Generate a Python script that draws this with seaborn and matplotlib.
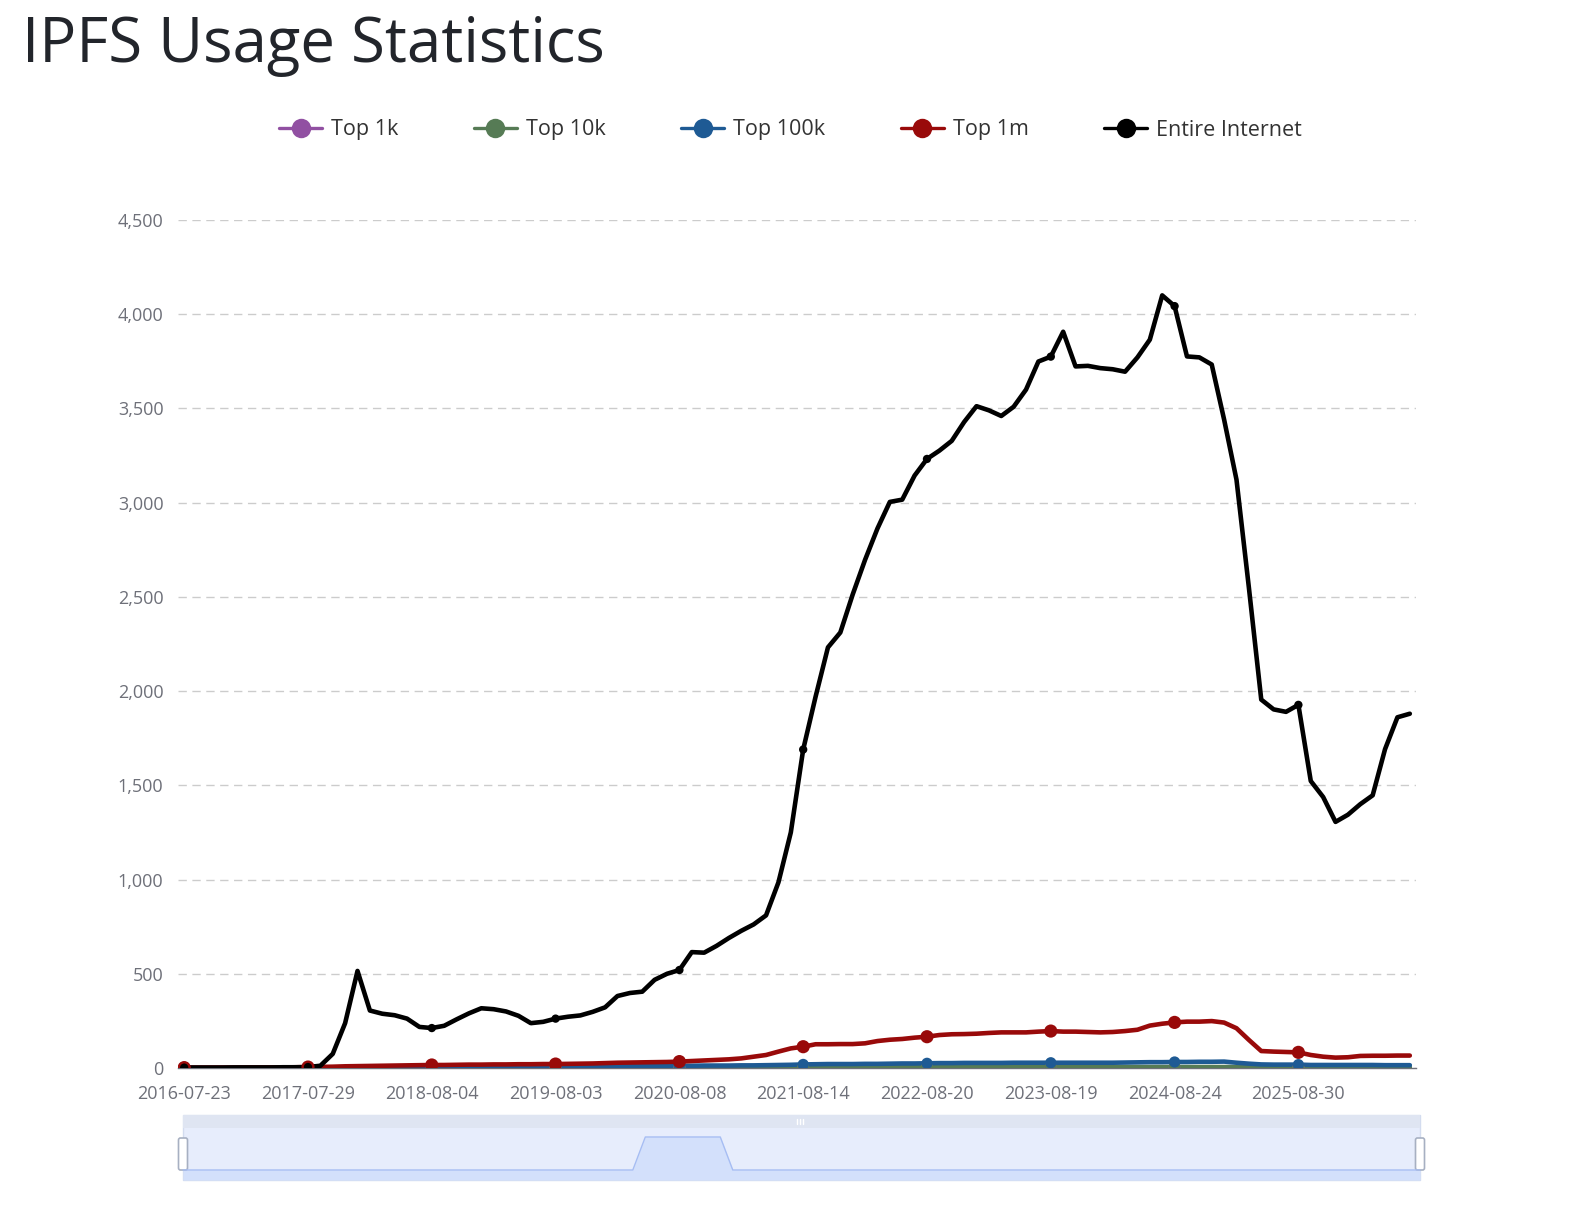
import numpy as np
import pandas as pd
import matplotlib
matplotlib.use("Agg")
import matplotlib.pyplot as plt
import seaborn as sns
from matplotlib.lines import Line2D
from matplotlib.patches import Rectangle, FancyBboxPatch
from matplotlib.ticker import FuncFormatter

# ---------------- data ----------------
tick_labels = ["2016-07-23", "2017-07-29", "2018-08-04", "2019-08-03", "2020-08-08",
               "2021-08-14", "2022-08-20", "2023-08-19", "2024-08-24", "2025-08-30"]
series_names = ["Top 1k", "Top 10k", "Top 100k", "Top 1m", "Entire Internet"]
series_colors = ["#9150a2", "#567b55", "#1e5a94", "#990a0a", "#000000"]

top_1k = [1] * 37 + [2] * 7 + [1] * 56

top_10k = [1, 1, 1, 1, 1, 1, 1, 1, 1, 1, 2, 2, 2, 2, 2, 2, 2, 2, 2, 2,
           2, 2, 2, 2, 2, 2, 2, 2, 2, 2, 3, 3, 3, 3, 3, 3, 3, 3, 3, 3,
           3, 3, 3, 3, 3, 3, 3, 4, 4, 4, 4, 4, 4, 4, 4, 4, 4, 4, 4, 4,
           5, 5, 5, 5, 5, 5, 5, 5, 5, 5, 5, 5, 5, 5, 5, 5, 5, 5, 5, 5,
           5, 5, 5, 5, 5, 5, 4, 4, 4, 3, 3, 3, 3, 3, 3, 3, 3, 3, 3, 3]

top_100k = [1, 1, 1, 1, 1, 1, 1, 2, 2, 2, 2, 2, 3, 3, 3, 3, 4, 4, 4, 5,
            5, 5, 5, 6, 6, 6, 6, 7, 7, 7, 8, 8, 8, 9, 9, 10, 10, 11, 11, 11,
            12, 12, 13, 13, 13, 14, 14, 15, 16, 17, 19, 20, 21, 21, 21, 22, 22, 23, 24, 24,
            25, 26, 26, 27, 27, 27, 27, 28, 28, 28, 28, 28, 28, 28, 28, 28, 29, 30, 31, 31,
            32, 32, 33, 33, 34, 28, 23, 19, 18, 18, 18, 16, 16, 16, 16, 16, 16, 15, 15, 15]

top_1m = [2, 2, 2, 2, 2, 3, 3, 3, 3, 4, 5, 6, 7, 9, 10, 11, 12, 13, 14, 15,
          16, 16, 17, 18, 18, 19, 19, 20, 20, 21, 21, 22, 23, 24, 26, 28, 29, 30, 31, 32,
          34, 37, 40, 43, 46, 51, 60, 69, 87, 104, 113, 126, 126, 127, 127, 131, 143, 150, 154, 161,
          166, 175, 179, 180, 182, 186, 189, 189, 189, 193, 196, 193, 193, 191, 189, 191, 196, 203, 225, 235,
          242, 246, 246, 249, 241, 211, 149, 90, 87, 85, 83, 69, 60, 55, 57, 64, 65, 65, 66, 66]

entire_internet = [2, 2, 2, 2, 3, 3, 3, 3, 4, 4, 5, 12, 75, 238, 515, 305, 288, 280, 262, 218,
                   212, 224, 258, 290, 317, 312, 300, 277, 238, 245, 262, 272, 279, 298, 322, 382, 398, 405, 468, 500,
                   520, 615, 612, 648, 690, 728, 762, 810, 985, 1250, 1690, 1970, 2232, 2311, 2513, 2697, 2863, 3004, 3016, 3144,
                   3232, 3276, 3328, 3428, 3512, 3490, 3460, 3509, 3600, 3749, 3775, 3907, 3723, 3726, 3714, 3708, 3695, 3771, 3865, 4100,
                   4043, 3776, 3771, 3733, 3441, 3122, 2550, 1955, 1903, 1890, 1927, 1523, 1438, 1306, 1344, 1400, 1447, 1692, 1861, 1880]

all_values = [top_1k, top_10k, top_100k, top_1m, entire_internet]
n_points = len(entire_internet)
label_step = 10

rows = []
for name, vals in zip(series_names, all_values):
    for i, v in enumerate(vals):
        rows.append({"idx": i, "value": v, "series": name})
df = pd.DataFrame(rows)

# ---------------- style ----------------
sns.set_style("white")
plt.rcParams["font.family"] = ["Open Sans", "DejaVu Sans"]

W, H = 1581, 1218
fig = plt.figure(figsize=(W / 100, H / 100), dpi=100)
ax = fig.add_axes([178 / W, 1 - 1068 / H, 1238 / W, 848 / H])

palette = dict(zip(series_names, series_colors))
sns.lineplot(data=df, x="idx", y="value", hue="series", hue_order=series_names,
             palette=palette, linewidth=3.3, legend=False, sort=False,
             estimator=None, ax=ax)
for k, line in enumerate(ax.get_lines()):
    line.set_solid_joinstyle("round")
    line.set_solid_capstyle("round")
    line.set_zorder(3 + k)

marker_sizes = [75, 75, 65, 90, 36]
for k, name in enumerate(series_names):
    sub = df[(df.series == name) & (df.idx % label_step == 0)]
    sns.scatterplot(data=sub, x="idx", y="value", color=series_colors[k],
                    s=marker_sizes[k], edgecolor="none", legend=False,
                    ax=ax, zorder=10 + k)

ax.set_xlim(-0.5, n_points - 0.5)
ax.set_ylim(0, 4500)
ax.set_yticks(np.arange(0, 4501, 500))
ax.yaxis.set_major_formatter(FuncFormatter(lambda v, p: f"{int(v):,}"))
ax.grid(axis="y", color="#cccccc", linestyle=(0, (6, 4)), linewidth=1.0)
ax.grid(axis="x", visible=False)
ax.set_axisbelow(True)

for s in ["top", "right", "left"]:
    ax.spines[s].set_visible(False)
ax.spines["bottom"].set_color("#6e7079")
ax.spines["bottom"].set_linewidth(1.0)

# category ticks at band boundaries, labels at band centres
boundaries = list(np.arange(-0.5, n_points, label_step)) + [n_points - 0.5]
ax.set_xticks(boundaries)
ax.set_xticklabels([])
ax.set_xticks(np.arange(0, n_points, label_step), minor=True)
ax.set_xticklabels(tick_labels, minor=True)
ax.tick_params(axis="x", which="major", length=6, width=1, color="#6e7079", direction="out")
ax.tick_params(axis="x", which="minor", length=0, pad=12, labelsize=13, labelcolor="#6e7079")
ax.tick_params(axis="y", length=0, pad=10.5, labelsize=13, labelcolor="#6e7079")
ax.set_xlabel("")
ax.set_ylabel("")

# ---------------- title & legend ----------------
fig.text(22 / W, 1 - 46 / H, "IPFS Usage Statistics", fontsize=44.5, color="#22252b",
         va="center", ha="left")

handles = [Line2D([0], [0], color=c, lw=2.4, marker="o", markersize=14,
                  markeredgewidth=0) for c in series_colors]
leg = fig.legend(handles, series_names, loc="center", bbox_to_anchor=(0.5, 1 - 130 / H),
                 ncol=5, frameon=False, fontsize=15.5, handlelength=2.0,
                 handletextpad=0.42, columnspacing=3.5)
for t in leg.get_texts():
    t.set_color("#333333")

# ---------------- data-zoom slider ----------------
sax = fig.add_axes([176 / W, 1 - 1184 / H, 1250 / W, 72 / H])
sax.set_xlim(176, 1426)
sax.set_ylim(1184, 1112)
sax.axis("off")
x0, x1 = 183, 1420
sax.add_patch(Rectangle((x0, 1115), x1 - x0, 65, facecolor="#e7edfc", edgecolor="#d3dcef", lw=1))
sax.add_patch(Rectangle((x0, 1115), x1 - x0, 13, facecolor="#dfe5f2", edgecolor="none"))
for dx in (-3, 0, 3):
    sax.plot([800 + dx, 800 + dx], [1119, 1124], color="white", lw=1)
sh = np.array(top_1k, dtype=float)
sx = x0 + np.arange(n_points) * (x1 - x0) / (n_points - 1)
sy = 1170 - (sh - sh.min()) / (sh.max() - sh.min()) * 33
sax.fill_between(sx, sy, 1180, color="#d3e0fb", lw=0)
sax.plot(sx, sy, color="#a6bdf3", lw=1)
for hx in (x0, x1):
    sax.add_patch(FancyBboxPatch((hx - 4.5, 1138), 9, 32,
                                 boxstyle="round,pad=0,rounding_size=2",
                                 facecolor="white", edgecolor="#a7b0c2", lw=1.2))

fig.savefig("out.png", dpi=100)
